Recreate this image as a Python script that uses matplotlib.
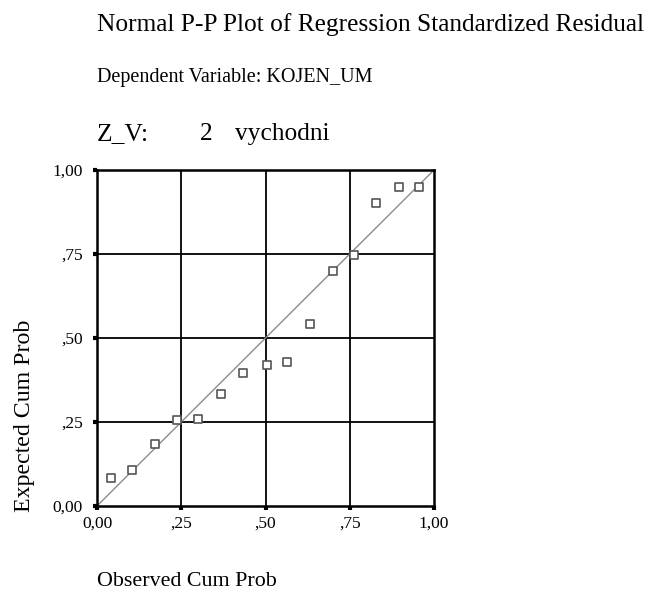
import matplotlib
matplotlib.use("Agg")
import matplotlib.pyplot as plt
from matplotlib.ticker import FixedFormatter

# observed vs expected cumulative probability
observed = [0.043, 0.104, 0.173, 0.238, 0.301, 0.368, 0.434, 0.504,
            0.564, 0.632, 0.699, 0.762, 0.828, 0.895, 0.956]
expected = [0.083, 0.107, 0.184, 0.256, 0.260, 0.333, 0.396, 0.420,
            0.430, 0.541, 0.699, 0.746, 0.901, 0.949, 0.949]
ticks = [0.0, 0.25, 0.5, 0.75, 1.0]
tick_labels = ["0,00", ",25", ",50", ",75", "1,00"]

W, H = 645, 590
plt.rcParams["font.family"] = ["Liberation Serif", "DejaVu Serif"]

fig = plt.figure(figsize=(W / 100, H / 100), dpi=100)
fig.patch.set_facecolor("white")


def px(x, y):
    # pixel position (from top-left) -> figure fraction
    return x / W, 1 - y / H


# axes box in pixels: left 97, right 434, top 170, bottom 506
ax = fig.add_axes([97 / W, 1 - 506 / H, 337 / W, 336 / H])
ax.set_xlim(0, 1)
ax.set_ylim(0, 1)

for t in ticks[1:-1]:
    ax.axvline(t, color="black", linewidth=1.3, zorder=1)
    ax.axhline(t, color="black", linewidth=1.3, zorder=1)

ax.plot([0, 1], [0, 1], color="#8c8c8c", linewidth=1.0, zorder=2)
ax.scatter(observed, expected, marker="s", s=30, facecolors="white",
           edgecolors="#555555", linewidths=1.2, zorder=3)

for sp in ax.spines.values():
    sp.set_linewidth(1.8)
    sp.set_color("black")

ax.set_xticks(ticks)
ax.set_yticks(ticks)
ax.xaxis.set_major_formatter(FixedFormatter(tick_labels))
ax.yaxis.set_major_formatter(FixedFormatter(tick_labels))
ax.tick_params(direction="out", length=3, width=3, color="black",
               labelsize=12.5)
ax.tick_params(axis="x", pad=4)
ax.tick_params(axis="y", pad=7)

fig.text(*px(97, 31), "Normal P-P Plot of Regression Standardized Residual",
         fontsize=18.3, va="baseline", ha="left")
fig.text(*px(97, 82), "Dependent Variable: KOJEN_UM",
         fontsize=14.5, va="baseline", ha="left")
fig.text(*px(97, 140), "Z_V:", fontsize=18.3, va="baseline", ha="left")
fig.text(*px(200, 140), "2", fontsize=18.3, va="baseline", ha="left")
fig.text(*px(235, 140), "vychodni", fontsize=18.3, va="baseline", ha="left")
fig.text(*px(97, 586), "Observed Cum Prob",
         fontsize=15.8, va="baseline", ha="left")
fig.text(*px(25, 416), "Expected Cum Prob", rotation=90,
         fontsize=17.2, va="center", ha="center")

fig.savefig("out.png", dpi=100, facecolor="white")
